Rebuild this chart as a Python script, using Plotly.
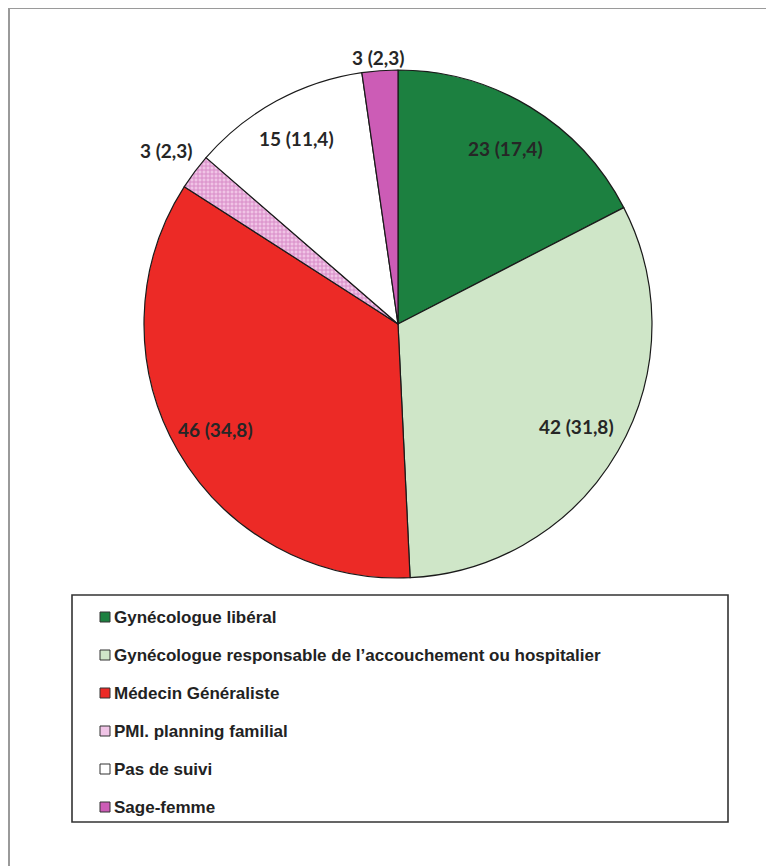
import math
import plotly.graph_objects as go

labels = ["Gynécologue libéral",
          "Gynécologue responsable de l’accouchement ou hospitalier",
          "Médecin Généraliste",
          "PMI. planning familial",
          "Pas de suivi",
          "Sage-femme"]
counts = [23, 42, 46, 3, 15, 3]
percents = [17.4, 31.8, 34.8, 2.3, 11.4, 2.3]
colors = ["#1c8040", "#cfe6c8", "#ec2a26", "#f0c4e6", "#ffffff", "#cc5cb6"]

# label distance from centre, as a fraction of the radius (style)
label_radius = [0.81, 0.81, 0.83, 1.14, 0.83, 1.05]

# figure sits inside the page body (8px default margin)
OFF = 8
W, H = 774 - OFF, 866 - OFF

def px_x(x):
    return (x - OFF) / W

def px_y(y):
    return 1 - (y - OFF) / H

# pie geometry in page pixels
CX, CY, R = 398, 324, 254

texts = [f"{c} ({str(p).replace('.', ',')})" for c, p in zip(counts, percents)]

fig = go.Figure()
fig.add_trace(go.Pie(
    labels=labels,
    values=counts,
    textinfo="none",
    sort=False,
    direction="clockwise",
    rotation=0,
    marker=dict(
        colors=colors,
        line=dict(color="#1a1a1a", width=1.2),
        pattern=dict(shape=["", "", "", "+", "", ""],
                     fgcolor=["#000", "#000", "#000", "#d98cc8", "#000", "#000"],
                     bgcolor=colors,
                     size=4, solidity=0.45),
    ),
    domain=dict(x=[px_x(CX - R), px_x(CX + R)], y=[px_y(CY + R), px_y(CY - R)]),
    showlegend=False,
    hoverinfo="label+value",
))

annotations = []
total = sum(counts)
cum = 0
for c, t, f in zip(counts, texts, label_radius):
    mid = (cum + c / 2) / total * 2 * math.pi
    cum += c
    x = CX + f * R * math.sin(mid)
    y = CY - f * R * math.cos(mid)
    annotations.append(dict(xref="paper", yref="paper", x=px_x(x), y=px_y(y),
                            xanchor="center", yanchor="middle", showarrow=False,
                            text=t,
                            font=dict(family="Lato", size=19, color="#262626", weight="bold")))

shapes = []
# outer frame
shapes.append(dict(type="rect", xref="paper", yref="paper",
                   x0=px_x(9), x1=1.05, y0=-0.05, y1=px_y(8),
                   line=dict(color="#9a9a9a", width=2), fillcolor="rgba(0,0,0,0)", layer="below"))
# legend box
shapes.append(dict(type="rect", xref="paper", yref="paper",
                   x0=px_x(72), x1=px_x(728), y0=px_y(822), y1=px_y(595),
                   line=dict(color="#333333", width=1.6), fillcolor="white", layer="below"))

row0, gap = 617, 38
for i, (lab, col) in enumerate(zip(labels, colors)):
    yc = row0 + i * gap
    shapes.append(dict(type="rect", xref="paper", yref="paper",
                       x0=px_x(100), x1=px_x(110), y0=px_y(yc + 5), y1=px_y(yc - 5),
                       line=dict(color="#333333", width=1), fillcolor=col))
    annotations.append(dict(xref="paper", yref="paper", x=px_x(112), y=px_y(yc),
                            xanchor="left", yanchor="middle", showarrow=False,
                            text=lab,
                            font=dict(family="Liberation Sans, Arial", size=17, color="#222222", weight="bold")))

fig.update_layout(
    width=W, height=H,
    margin=dict(l=0, r=0, t=0, b=0),
    paper_bgcolor="white",
    plot_bgcolor="white",
    shapes=shapes,
    annotations=annotations,
)

fig.write_html("out.html")
